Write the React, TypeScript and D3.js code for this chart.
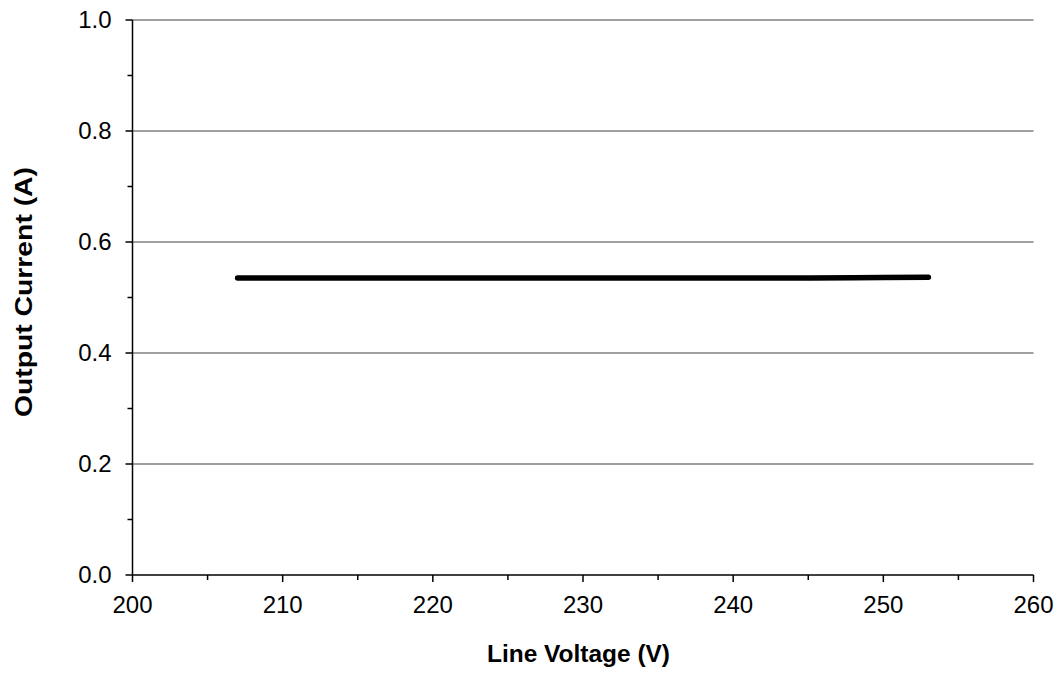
import React from "react";
import * as d3 from "d3";

const voltage = [207, 210, 215, 220, 225, 230, 235, 240, 245, 248, 250, 253];
const current = [0.535, 0.535, 0.535, 0.535, 0.535, 0.535, 0.535, 0.535, 0.535, 0.5355, 0.536, 0.5365];
const xMajorTicks = [200, 210, 220, 230, 240, 250, 260];
const xMinorTicks = [205, 215, 225, 235, 245, 255];
const yMajorTicks = [0, 0.2, 0.4, 0.6, 0.8, 1.0];
const yMinorTicks = [0.1, 0.3, 0.5, 0.7, 0.9];

export default function App() {
  const W = 1061, H = 675;
  const left = 132.5, right = 1033.5, top = 20, bottom = 575;
  const x = d3.scaleLinear().domain([200, 260]).range([left, right]);
  const y = d3.scaleLinear().domain([0, 1]).range([bottom, top]);
  const pts = voltage.map((v, i) => [v, current[i]] as [number, number]);
  const line = d3.line<[number, number]>().x(d => x(d[0])).y(d => y(d[1]));
  const font = "'Liberation Sans', Arial, sans-serif";
  return (
    <svg width={W} height={H} style={{ position: "absolute", left: 0, top: 0 }} fontFamily={font}>
      <rect width={W} height={H} fill="#fff" />
      {yMajorTicks.filter(t => t > 0).map(t => (
        <line key={"g" + t} x1={left} x2={right} y1={y(t)} y2={y(t)} stroke="#808080" strokeWidth={1.3} />
      ))}
      <line x1={left} x2={left} y1={top} y2={bottom} stroke="#000" strokeWidth={1.5} />
      <line x1={left} x2={right} y1={bottom} y2={bottom} stroke="#000" strokeWidth={1.5} />
      {yMajorTicks.map(t => (
        <g key={"y" + t}>
          <line x1={left - 7} x2={left} y1={y(t)} y2={y(t)} stroke="#000" strokeWidth={1.5} />
          <text x={left - 21} y={y(t)} dy="0.35em" textAnchor="end" fontSize={24}>{t.toFixed(1)}</text>
        </g>
      ))}
      {yMinorTicks.map(t => (
        <line key={"ym" + t} x1={left - 5} x2={left} y1={y(t)} y2={y(t)} stroke="#000" strokeWidth={1.5} />
      ))}
      {xMajorTicks.map(t => (
        <g key={"x" + t}>
          <line x1={x(t)} x2={x(t)} y1={bottom} y2={bottom + 7} stroke="#000" strokeWidth={1.5} />
          <text x={x(t)} y={613} textAnchor="middle" fontSize={24}>{t}</text>
        </g>
      ))}
      {xMinorTicks.map(t => (
        <line key={"xm" + t} x1={x(t)} x2={x(t)} y1={bottom} y2={bottom + 5} stroke="#000" strokeWidth={1.5} />
      ))}
      <path d={line(pts) || ""} fill="none" stroke="#000" strokeWidth={5.5} strokeLinecap="round" strokeLinejoin="round" />
      <text x={578.5} y={662} textAnchor="middle" fontSize={24} fontWeight="bold" textLength={183} lengthAdjust="spacingAndGlyphs">Line Voltage (V)</text>
      <text transform={`translate(32, 292) rotate(-90)`} textAnchor="middle" fontSize={24} fontWeight="bold" textLength={250} lengthAdjust="spacingAndGlyphs">Output Current (A)</text>
    </svg>
  );
}
